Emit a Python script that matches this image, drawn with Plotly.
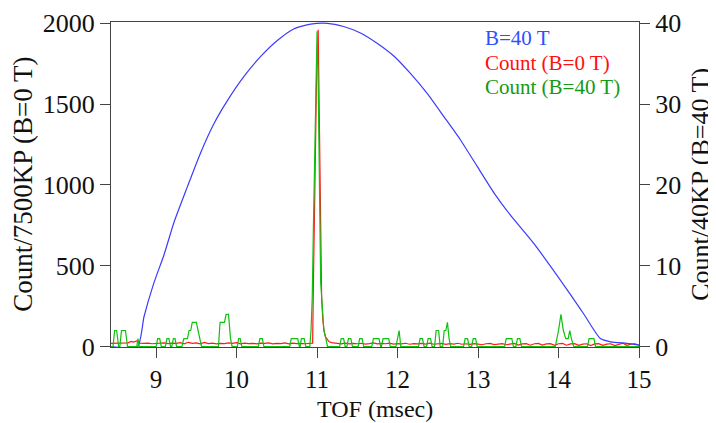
import plotly.graph_objects as go

# B-field pulse (tesla, right axis)
FIELD_T = [8.44, 8.77, 8.85, 8.97, 9.10, 9.22, 9.39, 9.55, 9.72, 9.89, 10.09, 10.30, 10.51,
           10.71, 10.92, 11.13, 11.33, 11.54, 11.75, 11.96, 12.16, 12.37, 12.58, 12.78, 12.99,
           13.20, 13.40, 13.69, 14.11, 14.31, 14.52, 14.65, 14.85, 15.00]
FIELD_B = [0, 0, 3.7, 7.8, 11.4, 15.3, 19.8, 23.9, 27.6, 30.5, 33.4, 35.9, 37.9,
           39.3, 39.9, 40.0, 39.6, 38.8, 37.5, 35.9, 33.8, 31.3, 28.4, 25.6, 22.3,
           19.0, 16.3, 12.8, 7.0, 4.1, 1.0, 0.6, 0.4, 0.2]

# Count (B=0 T), left axis, per 7500 KP
RED_T = [8.44, 8.50, 8.55, 8.60, 8.65, 8.69, 8.72, 8.76, 8.80, 8.85, 8.90, 8.95, 9.00, 9.05,
         9.10, 9.15, 9.20, 9.25, 9.30, 9.35, 9.40, 9.45, 9.50, 9.55, 9.60, 9.65, 9.70, 9.75,
         9.80, 9.85, 9.90, 9.95, 10.00, 10.05, 10.10, 10.15, 10.20, 10.25, 10.30, 10.35, 10.40,
         10.45, 10.50, 10.55, 10.60, 10.65, 10.70, 10.75, 10.80, 10.85, 10.90, 10.945,
         10.958, 10.976, 10.995, 11.014, 11.026, 11.041, 11.057, 11.073, 11.086, 11.105, 11.128,
         11.15, 11.18, 11.22, 11.26, 11.30, 11.35, 11.40, 11.45, 11.50, 11.55, 11.60, 11.65,
         11.70, 11.75, 11.80, 11.85, 11.90, 11.95, 12.00, 12.05, 12.10, 12.15, 12.20, 12.25,
         12.30, 12.35, 12.40, 12.45, 12.50, 12.55, 12.60, 12.65, 12.70, 12.75, 12.80, 12.85,
         12.90, 12.95, 13.00, 13.05, 13.10, 13.15, 13.20, 13.25, 13.30, 13.35, 13.40, 13.45,
         13.50, 13.55, 13.60, 13.65, 13.70, 13.75, 13.80, 13.85, 13.90, 13.95, 14.00, 14.05,
         14.10, 14.15, 14.20, 14.25, 14.30, 14.35, 14.40, 14.45, 14.50, 14.55, 14.60, 14.65,
         14.70, 14.75, 14.80, 14.85, 14.90, 14.95, 15.00]
RED_C = [20, 22, 20, 21, 24, 33, 28, 35, 22, 20, 22, 18, 21, 20,
         23, 19, 22, 20, 25, 18, 27, 20, 24, 17, 26, 19, 22, 18,
         21, 19, 23, 20, 25, 18, 22, 19, 21, 18, 22, 20, 24,
         18, 21, 19, 23, 18, 22, 19, 21, 18, 20, 22,
         500, 1200, 1700, 1960, 1550, 800, 300, 160, 100, 60, 40,
         30, 25, 22, 20, 18, 22, 17, 20, 18, 21, 16, 19,
         23, 17, 20, 18, 22, 16, 19, 17, 21, 15, 19, 17,
         20, 16, 22, 15, 18, 20, 14, 19, 16, 21, 15, 18,
         14, 19, 16, 12, 18, 20, 13, 17, 19, 12, 18, 20,
         10, 17, 19, 9, 18, 20, 10, 17, 19, 8, 18, 20,
         9, 17, 19, 8, 16, 18, 7, 17, 19, 8, 16, 18,
         7, 17, 22, 8, 16, 18, 10]

# Count (B=40 T), right axis, per 40 KP
GREEN_T = [8.44, 8.465, 8.485, 8.51, 8.535, 8.55, 8.57, 8.62, 8.645,
           8.76, 8.775, 8.79,
           9.00, 9.02, 9.045, 9.065, 9.115, 9.135, 9.16, 9.18, 9.195, 9.215, 9.235, 9.255,
           9.32, 9.345, 9.39, 9.41, 9.43, 9.45, 9.50, 9.52, 9.54, 9.565,
           9.775, 9.795, 9.85, 9.87, 9.90, 9.915, 9.925, 9.945,
           10.01, 10.025, 10.045, 10.065, 10.27, 10.29, 10.32, 10.34,
           10.66, 10.68, 10.76, 10.78, 10.79, 10.805, 10.84, 10.86,
           10.91, 10.925, 10.94, 10.955, 10.97, 10.985, 11.00, 11.015, 11.03, 11.045, 11.065,
           11.085, 11.11, 11.13,
           11.28, 11.30, 11.33, 11.35, 11.37, 11.39, 11.42, 11.44,
           11.51, 11.53, 11.56, 11.58, 11.68, 11.70, 11.77, 11.79, 11.80, 11.82, 11.89, 11.91,
           11.98, 12.00, 12.02, 12.04,
           12.26, 12.28, 12.31, 12.33, 12.36, 12.38, 12.41, 12.43,
           12.46, 12.48, 12.51, 12.53, 12.56, 12.58, 12.60, 12.62, 12.64, 12.66,
           12.82, 12.84, 12.87, 12.89, 12.92, 12.94, 12.97, 12.99,
           13.33, 13.35, 13.42, 13.44, 13.47, 13.49, 13.52, 13.54,
           13.96, 14.00, 14.03, 14.06, 14.09, 14.12, 14.14, 14.16, 14.19,
           14.36, 14.38, 14.44, 14.46, 15.00]
GREEN_C = [0, 0, 2, 2, 0, 0, 2, 2, 0,
           0, 1, 0,
           0, 1, 1, 0, 0, 1, 1, 0, 0, 1, 1, 0,
           0, 1, 1, 2, 2, 3, 3, 2, 1, 0,
           0, 3, 3, 4, 4, 2, 1, 0,
           0, 1, 1, 0, 0, 1, 1, 0,
           0, 1, 1, 0, 0, 1, 1, 0,
           0, 2, 6, 15, 24, 34, 39, 32, 16, 8, 5,
           2, 1, 0,
           0, 1, 1, 0, 0, 1, 1, 0,
           0, 1, 1, 0, 0, 1, 1, 0, 0, 1, 1, 0,
           0, 1, 2, 0,
           0, 1, 1, 0, 0, 1, 1, 0,
           0, 2, 2, 0, 0, 2, 2, 3, 1, 0,
           0, 1, 1, 0, 0, 1, 1, 0,
           0, 1, 1, 0, 0, 1, 1, 0,
           0, 2, 4, 2, 1, 1, 2, 1, 0,
           0, 1, 1, 0, 0]

FONT = "Liberation Serif"
TEXT = "#111"
AXIS = dict(showline=True, linecolor="#444", linewidth=1, ticks="outside", ticklen=10,
            tickcolor="#444", showgrid=False, zeroline=False, automargin=False,
            tickfont=dict(family=FONT, size=26, color=TEXT))

fig = go.Figure()
fig.add_trace(go.Scatter(x=FIELD_T, y=FIELD_B, mode="lines", yaxis="y2",
                         line=dict(color="#3b3bff", width=1.2, shape="spline", smoothing=0.6)))
fig.add_trace(go.Scatter(x=RED_T, y=RED_C, mode="lines",
                         line=dict(color="#ff1a1a", width=1.2)))
fig.add_trace(go.Scatter(x=GREEN_T, y=GREEN_C, mode="lines", yaxis="y2",
                         line=dict(color="#10c010", width=1.2)))

legend_items = [("B=40 T", "#3050ff", 0.951), ("Count (B=0 T)", "#ff1010", 0.874),
                ("Count (B=40 T)", "#159a15", 0.800)]
for text, color, ypos in legend_items:
    fig.add_annotation(text=text, xref="paper", yref="paper", x=0.704, y=ypos,
                       xanchor="left", yanchor="middle", showarrow=False,
                       font=dict(family=FONT, size=21, color=color))

# axis titles placed as annotations so they sit where the original has them
fig.add_annotation(text="TOF (msec)", xref="paper", yref="paper", x=0.5, y=-0.191,
                   xanchor="center", yanchor="middle", showarrow=False,
                   font=dict(family=FONT, size=24, color=TEXT))
fig.add_annotation(text="Count/7500KP (B=0 T)", xref="paper", yref="paper", x=-0.168, y=0.5,
                   xanchor="center", yanchor="middle", textangle=-90, showarrow=False,
                   font=dict(family=FONT, size=27, color=TEXT))
fig.add_annotation(text="Count/40KP (B=40 T)", xref="paper", yref="paper", x=1.116, y=0.5,
                   xanchor="center", yanchor="middle", textangle=-90, showarrow=False,
                   font=dict(family=FONT, size=26, color=TEXT))

# the page body adds an 8px offset, so the figure is sized to end at the window edge
fig.update_layout(
    width=708, height=415,
    margin=dict(l=103, r=77, t=14, b=76),
    plot_bgcolor="white", paper_bgcolor="white",
    showlegend=False,
    xaxis=dict(AXIS, range=[8.44, 15.0], dtick=1, mirror=True,
               tickfont=dict(family=FONT, size=25, color=TEXT)),
    yaxis=dict(AXIS, range=[-2, 2008], tickvals=[0, 500, 1000, 1500, 2000]),
    yaxis2=dict(AXIS, range=[-0.04, 40.16], tickvals=[0, 10, 20, 30, 40], overlaying="y",
                side="right"),
)

fig.write_html("out.html")
